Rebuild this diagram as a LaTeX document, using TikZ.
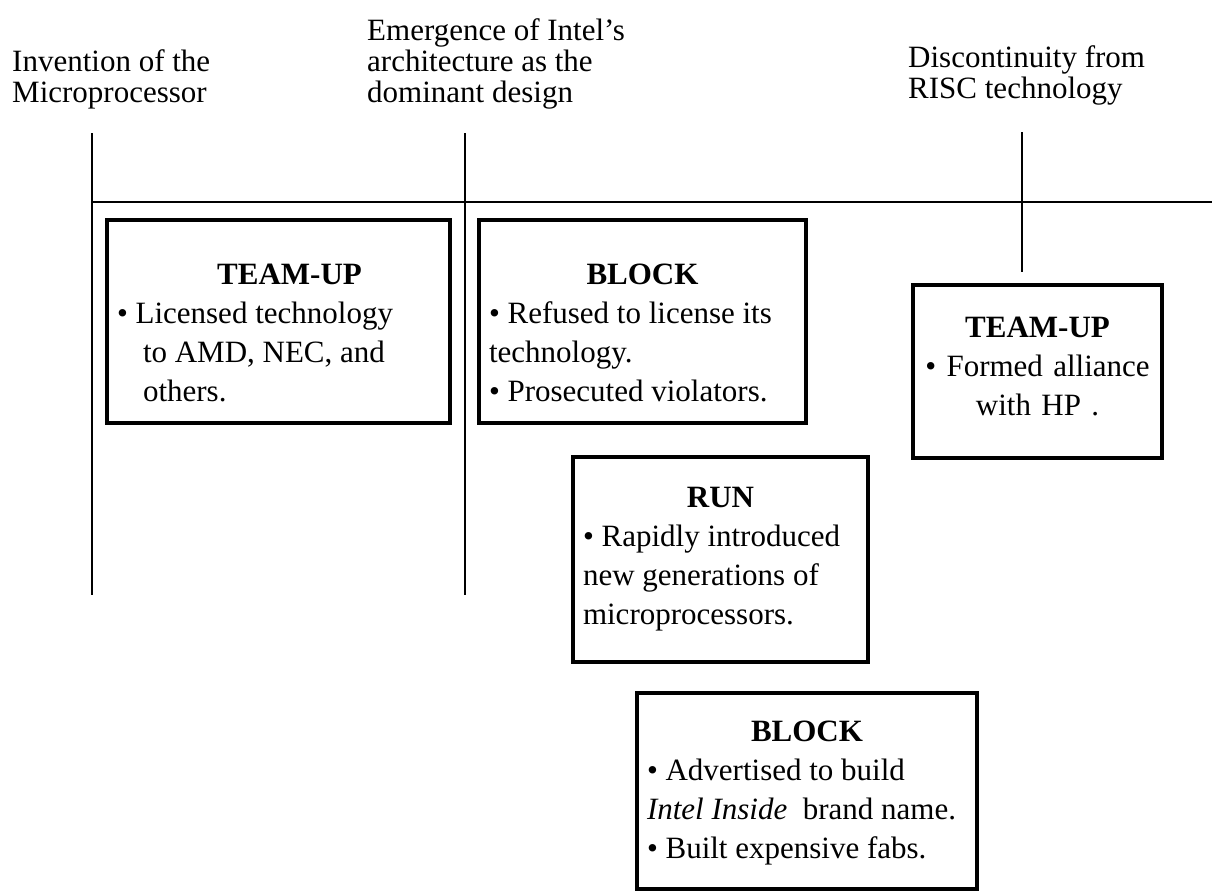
\documentclass[tikz,border=0pt]{standalone}
\usepackage{fontspec}
\setmainfont{Liberation Serif}
\usepackage{tikz}

\begin{document}
\begin{tikzpicture}[x=1pt, y=-1pt,
  marco/.style={align=left, inner sep=0pt, anchor=base west, font=\fontsize{31}{31}\selectfont},
  caixa/.style={draw, line width=4.5pt, outer sep=0pt, anchor=north west, inner xsep=10pt, inner ysep=0pt, align=flush left, font=\fontsize{31}{39}\selectfont},
  linha/.style={line width=2pt}]

\useasboundingbox (0,0) rectangle (1212,894);

% Marcos da linha do tempo (ancorados na ultima linha)
\node[marco] (invencao) at (12,102) {Invention of the\\Microprocessor};
\node[marco] (emergencia) at (367,102) {Emergence of Intel's\\architecture as the\\dominant design};
\node[marco] (risc) at (908,98) {Discontinuity from\\RISC technology};

% Linha do tempo
\coordinate (inicio) at (92,202);
\coordinate (fim) at (1212,202);
\draw[linha, line width=2.5pt] (inicio) -- (fim);

% Linhas verticais
\coordinate (v1a) at (92,133);
\coordinate (v1b) at (92,595);
\coordinate (v2a) at (465,133);
\coordinate (v2b) at (465,595);
\coordinate (v3a) at (1022,132);
\coordinate (v3b) at (1022,272);
\draw[linha] (v1a) -- (v1b);
\draw[linha] (v2a) -- (v2b);
\draw[linha] (v3a) -- (v3b);

% Estrategias
\node[caixa, text width=323pt, text height=64pt, text depth=139pt] (teamupA) at (107,220)
  {{\centering\hspace*{22pt}\textbf{TEAM-UP}\par}
   • Licensed technology\\
   \hspace*{26pt}to AMD, NEC, and\\
   \hspace*{26pt}others.};

\node[caixa, text width=307pt, text height=64pt, text depth=139pt] (blockA) at (479,220)
  {{\centering\textbf{BLOCK}\par}
   • Refused to license its\\
   technology.\\
   • Prosecuted violators.};

\node[caixa, align=center, text width=229pt, text height=52pt, text depth=121pt] (teamupB) at (913,285)
  {\textbf{TEAM-UP}\\
   • Formed alliance\\
   with HP .};

\node[caixa, text width=275pt, text height=50pt, text depth=155pt] (run) at (573,457)
  {{\centering\textbf{RUN}\par}
   • Rapidly introduced\\
   new generations of\\
   microprocessors.};

\node[caixa, text width=320pt, text height=48pt, text depth=148pt] (blockB) at (637,693)
  {{\centering\textbf{BLOCK}\par}
   • Advertised to build\\
   \textit{Intel Inside}\ \ brand name.\\
   • Built expensive fabs.};

\end{tikzpicture}
\end{document}
